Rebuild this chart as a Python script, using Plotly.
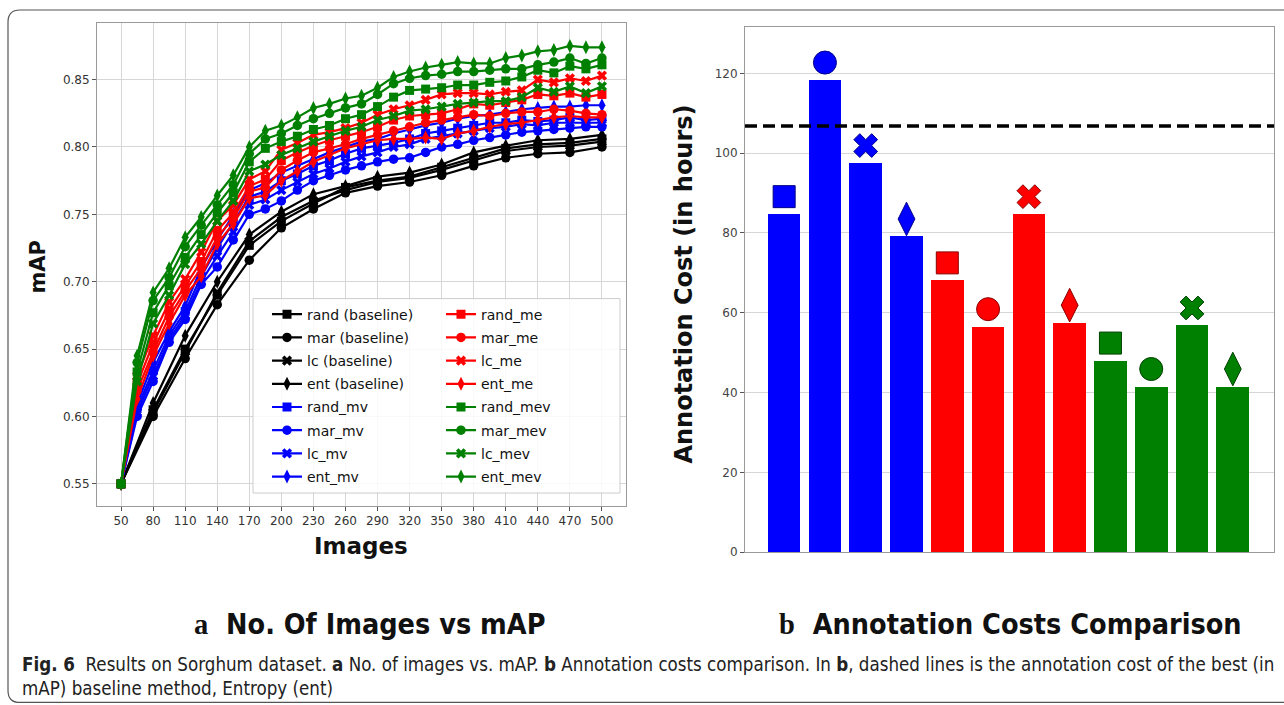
import plotly.graph_objects as go

W, H = 1284, 705

# ---------------- data: panel a ----------------
x_base = [50, 80, 110, 140, 170, 200, 230, 260, 290, 320, 350, 380, 410, 440, 470, 500]
x_al = [50, 65, 80, 95, 110, 125, 140, 155, 170, 185, 200, 215, 230, 245, 260, 275,
        290, 305, 320, 335, 350, 365, 380, 395, 410, 425, 440, 455, 470, 485, 500]

rand_base = [0.550, 0.605, 0.650, 0.690, 0.727, 0.745, 0.758, 0.770, 0.775, 0.778, 0.785, 0.792, 0.799, 0.802, 0.803, 0.806]
mar_base = [0.550, 0.600, 0.643, 0.683, 0.716, 0.740, 0.754, 0.766, 0.771, 0.774, 0.779, 0.786, 0.792, 0.795, 0.796, 0.800]
lc_base = [0.550, 0.603, 0.648, 0.692, 0.730, 0.748, 0.760, 0.768, 0.774, 0.777, 0.783, 0.790, 0.797, 0.800, 0.801, 0.804]
ent_base = [0.550, 0.610, 0.660, 0.700, 0.735, 0.752, 0.765, 0.771, 0.778, 0.781, 0.787, 0.796, 0.801, 0.805, 0.806, 0.809]

rand_mv = [0.550, 0.606, 0.634, 0.660, 0.678, 0.704, 0.725, 0.744, 0.763, 0.767, 0.775, 0.780, 0.786, 0.790, 0.795, 0.799,
           0.801, 0.803, 0.806, 0.810, 0.812, 0.814, 0.816, 0.818, 0.818, 0.820, 0.819, 0.820, 0.822, 0.820, 0.821]
mar_mv = [0.550, 0.600, 0.626, 0.655, 0.672, 0.698, 0.711, 0.731, 0.750, 0.754, 0.760, 0.768, 0.775, 0.779, 0.783, 0.786,
          0.789, 0.791, 0.792, 0.796, 0.800, 0.802, 0.805, 0.807, 0.809, 0.811, 0.812, 0.813, 0.814, 0.815, 0.815]
lc_mv = [0.550, 0.603, 0.630, 0.657, 0.675, 0.700, 0.719, 0.737, 0.757, 0.761, 0.768, 0.774, 0.780, 0.784, 0.789, 0.793,
         0.796, 0.800, 0.802, 0.806, 0.808, 0.810, 0.812, 0.814, 0.815, 0.817, 0.816, 0.818, 0.818, 0.818, 0.818]
ent_mv = [0.550, 0.609, 0.640, 0.663, 0.682, 0.710, 0.731, 0.750, 0.768, 0.773, 0.781, 0.786, 0.791, 0.796, 0.800, 0.804,
          0.806, 0.810, 0.813, 0.816, 0.818, 0.821, 0.823, 0.824, 0.826, 0.828, 0.829, 0.830, 0.830, 0.831, 0.831]

rand_me = [0.550, 0.624, 0.654, 0.679, 0.697, 0.715, 0.738, 0.751, 0.771, 0.776, 0.790, 0.796, 0.801, 0.805, 0.808, 0.811,
           0.815, 0.820, 0.823, 0.824, 0.825, 0.828, 0.832, 0.831, 0.833, 0.835, 0.839, 0.838, 0.840, 0.837, 0.839]
mar_me = [0.550, 0.619, 0.648, 0.674, 0.693, 0.710, 0.733, 0.747, 0.767, 0.770, 0.783, 0.790, 0.796, 0.799, 0.802, 0.806,
          0.809, 0.812, 0.815, 0.818, 0.820, 0.822, 0.824, 0.823, 0.825, 0.826, 0.826, 0.828, 0.827, 0.825, 0.824]
lc_me = [0.550, 0.630, 0.660, 0.685, 0.702, 0.722, 0.745, 0.757, 0.776, 0.782, 0.798, 0.803, 0.809, 0.811, 0.814, 0.818,
         0.824, 0.828, 0.831, 0.835, 0.839, 0.840, 0.840, 0.839, 0.841, 0.842, 0.850, 0.848, 0.851, 0.849, 0.853]
ent_me = [0.550, 0.613, 0.645, 0.669, 0.690, 0.704, 0.728, 0.743, 0.762, 0.764, 0.775, 0.782, 0.789, 0.794, 0.799, 0.802,
          0.805, 0.806, 0.806, 0.807, 0.806, 0.810, 0.812, 0.815, 0.817, 0.818, 0.820, 0.822, 0.823, 0.822, 0.822]

rand_mev = [0.550, 0.633, 0.677, 0.697, 0.718, 0.735, 0.751, 0.766, 0.789, 0.799, 0.804, 0.808, 0.813, 0.816, 0.821, 0.824,
            0.830, 0.837, 0.842, 0.843, 0.844, 0.846, 0.846, 0.848, 0.849, 0.852, 0.857, 0.855, 0.860, 0.858, 0.861]
mar_mev = [0.550, 0.640, 0.686, 0.703, 0.726, 0.742, 0.757, 0.772, 0.795, 0.806, 0.810, 0.816, 0.821, 0.825, 0.829, 0.832,
           0.839, 0.847, 0.851, 0.853, 0.854, 0.856, 0.856, 0.857, 0.858, 0.858, 0.861, 0.863, 0.866, 0.862, 0.866]
lc_mev = [0.550, 0.626, 0.669, 0.690, 0.713, 0.728, 0.745, 0.760, 0.782, 0.787, 0.794, 0.799, 0.804, 0.808, 0.812, 0.815,
          0.820, 0.823, 0.827, 0.828, 0.830, 0.832, 0.833, 0.834, 0.834, 0.837, 0.844, 0.841, 0.845, 0.840, 0.845]
ent_mev = [0.550, 0.645, 0.692, 0.710, 0.733, 0.748, 0.764, 0.779, 0.800, 0.812, 0.816, 0.822, 0.829, 0.832, 0.836, 0.838,
           0.844, 0.852, 0.856, 0.859, 0.861, 0.863, 0.862, 0.862, 0.866, 0.868, 0.871, 0.872, 0.875, 0.874, 0.874]

x_ticks_a = [50, 80, 110, 140, 170, 200, 230, 260, 290, 320, 350, 380, 410, 440, 470, 500]
y_ticks_a = [0.55, 0.60, 0.65, 0.70, 0.75, 0.80, 0.85]

# ---------------- data: panel b ----------------
cost_methods = ["rand_mv", "mar_mv", "lc_mv", "ent_mv", "rand_me", "mar_me", "lc_me", "ent_me",
                "rand_mev", "mar_mev", "lc_mev", "ent_mev"]
cost_hours = [84.7, 118.3, 97.5, 79.1, 68.1, 56.5, 84.7, 57.5, 48.0, 41.5, 56.8, 41.5]
baseline_cost = 106.8
y_ticks_b = [0, 20, 40, 60, 80, 100, 120]

BLACK, BLUE, RED, GREEN = "#000000", "#0000ff", "#ff0000", "#008000"
SYM = {"rand": "square", "mar": "circle", "lc": "x", "ent": "diamond-tall"}

fig = go.Figure()

series = [
    ("rand (baseline)", x_base, rand_base, BLACK, "rand", "legend"),
    ("mar (baseline)", x_base, mar_base, BLACK, "mar", "legend"),
    ("lc (baseline)", x_base, lc_base, BLACK, "lc", "legend"),
    ("ent (baseline)", x_base, ent_base, BLACK, "ent", "legend"),
    ("rand_mv", x_al, rand_mv, BLUE, "rand", "legend"),
    ("mar_mv", x_al, mar_mv, BLUE, "mar", "legend"),
    ("lc_mv", x_al, lc_mv, BLUE, "lc", "legend"),
    ("ent_mv", x_al, ent_mv, BLUE, "ent", "legend"),
    ("rand_me", x_al, rand_me, RED, "rand", "legend2"),
    ("mar_me", x_al, mar_me, RED, "mar", "legend2"),
    ("lc_me", x_al, lc_me, RED, "lc", "legend2"),
    ("ent_me", x_al, ent_me, RED, "ent", "legend2"),
    ("rand_mev", x_al, rand_mev, GREEN, "rand", "legend2"),
    ("mar_mev", x_al, mar_mev, GREEN, "mar", "legend2"),
    ("lc_mev", x_al, lc_mev, GREEN, "lc", "legend2"),
    ("ent_mev", x_al, ent_mev, GREEN, "ent", "legend2"),
]

for name, xs, ys, col, kind, leg in series:
    size = {"square": 9, "circle": 9.5, "x": 9, "diamond-tall": 10}[SYM[kind]]
    fig.add_trace(go.Scatter(
        x=xs, y=ys, name=name, mode="lines+markers",
        line=dict(color=col, width=2.2),
        marker=dict(symbol=SYM[kind], size=size, color=col, line=dict(width=0), opacity=1),
        xaxis="x", yaxis="y", legend=leg, legendgroup=name,
    ))

bar_colors = [BLUE] * 4 + [RED] * 4 + [GREEN] * 4
edge_colors = ["#00008b"] * 4 + ["#8b0000"] * 4 + ["#004000"] * 4
bar_pos = list(range(len(cost_hours)))
fig.add_trace(go.Bar(
    x=bar_pos, y=cost_hours, width=0.8, marker=dict(color=bar_colors, line=dict(width=0)),
    xaxis="x2", yaxis="y2", showlegend=False, hoverinfo="y",
))
kinds = ["rand", "mar", "lc", "ent"] * 3
marker_sizes = {"square": 22, "circle": 23, "x": 21, "diamond-tall": 24}
fig.add_trace(go.Scatter(
    x=bar_pos, y=[v + 4.4 for v in cost_hours], mode="markers",
    marker=dict(symbol=[SYM[k] for k in kinds], size=[marker_sizes[SYM[k]] for k in kinds],
                color=bar_colors, opacity=1, line=dict(color=edge_colors, width=1)),
    xaxis="x2", yaxis="y2", showlegend=False,
))

# panel geometry (pixels -> paper); K compensates the slight vertical squeeze of the rendered page
K = 0.988

def px(x):
    return x / W

def py(y):
    return 1 - y / (K * H)

grid = "#d6d6d6"
tickfont = dict(family="DejaVu Sans, sans-serif", size=12, color="#333333")

fig.update_layout(
    width=W, height=H, margin=dict(l=0, r=0, t=0, b=0),
    paper_bgcolor="white", plot_bgcolor="white",
    xaxis=dict(domain=[px(97), px(626)], range=[27.5, 522.5], tickvals=x_ticks_a,
               showgrid=True, gridcolor=grid, gridwidth=1, zeroline=False,
               showline=True, linecolor="#9a9a9a", mirror=True, ticks="outside", ticklen=4,
               tickcolor="#555", tickfont=tickfont, anchor="y"),
    yaxis=dict(domain=[py(505), py(23)], range=[0.5335, 0.892], tickvals=y_ticks_a,
               tickformat=".2f", showgrid=True, gridcolor=grid, gridwidth=1, zeroline=False,
               showline=True, linecolor="#9a9a9a", mirror=True, ticks="outside", ticklen=4,
               tickcolor="#555", tickfont=tickfont, anchor="x"),
    xaxis2=dict(domain=[px(745), px(1274)], range=[-0.96, 12.01], showticklabels=False,
                showgrid=False, zeroline=False, showline=True, linecolor="#9a9a9a", mirror=True,
                ticks="", anchor="y2"),
    yaxis2=dict(domain=[py(551), py(27)], range=[0, 131.6], tickvals=y_ticks_b,
                showgrid=True, gridcolor=grid, gridwidth=1, zeroline=False,
                showline=True, linecolor="#9a9a9a", mirror=True, ticks="outside", ticklen=4,
                tickcolor="#555", tickfont=dict(family="DejaVu Sans, sans-serif",
                                                size=12, color="#444444"), anchor="x2"),
    legend=dict(x=px(267), y=py(298), xanchor="left", yanchor="top", bgcolor="rgba(0,0,0,0)",
                borderwidth=0, tracegroupgap=2, traceorder="grouped",
                font=dict(family="DejaVu Sans, sans-serif", size=14, color="#111")),
    legend2=dict(x=px(441), y=py(298), xanchor="left", yanchor="top", bgcolor="rgba(0,0,0,0)",
                 borderwidth=0, tracegroupgap=2, traceorder="grouped",
                 font=dict(family="DejaVu Sans, sans-serif", size=14, color="#111")),
    bargap=0,
)

# legend frame
fig.add_shape(type="rect", xref="paper", yref="paper", x0=px(253), x1=px(620), y0=py(492), y1=py(298),
              line=dict(color="#cccccc", width=1), fillcolor="rgba(255,255,255,0.85)", layer="above")

# dashed baseline (entropy) cost line
fig.add_shape(type="line", xref="x2 domain", yref="y2", x0=0, x1=1, y0=baseline_cost, y1=baseline_cost,
              line=dict(color="black", width=3.5, dash="12px,6px"), layer="above")

# rounded outer border
r = 12
x0b, y0b, x1b, y1b = 8, 10, 1300, 701
path = (f"M {px(x0b + r)},{py(y0b)} L {px(x1b - r)},{py(y0b)} "
        f"Q {px(x1b)},{py(y0b)} {px(x1b)},{py(y0b + r)} L {px(x1b)},{py(y1b - r)} "
        f"Q {px(x1b)},{py(y1b)} {px(x1b - r)},{py(y1b)} L {px(x0b + r)},{py(y1b)} "
        f"Q {px(x0b)},{py(y1b)} {px(x0b)},{py(y1b - r)} L {px(x0b)},{py(y0b + r)} "
        f"Q {px(x0b)},{py(y0b)} {px(x0b + r)},{py(y0b)} Z")
fig.add_shape(type="path", xref="paper", yref="paper", path=path, line=dict(color="#555555", width=1.2))

COND = "DejaVu Sans Condensed, DejaVu Sans, sans-serif"
sub_font = dict(family=COND, size=28.5, color="#111", weight="bold")
cap_font = dict(family=COND, size=18.6, color="#222")
annotations = [
    dict(text="<b>mAP</b>", x=px(38), y=py(266), textangle=-90,
         font=dict(family="DejaVu Sans, sans-serif", size=21, color="#111")),
    dict(text="<b>Images</b>", x=px(361), y=py(545),
         font=dict(family="DejaVu Sans, sans-serif", size=23, color="#111")),
    dict(text="<b>Annotation Cost (in hours)</b>", x=px(684), y=py(283), textangle=-90,
         font=dict(family="DejaVu Sans, sans-serif", size=24, color="#111")),
    dict(text='<span style="font-family:Liberation Serif, serif">a</span>  No. Of Images vs mAP',
         x=px(369), y=py(623), font=sub_font),
    dict(text='<span style="font-family:Liberation Serif, serif">b</span>  Annotation Costs Comparison',
         x=px(1010), y=py(623), font=sub_font),
    dict(text="<b>Fig. 6</b>  Results on Sorghum dataset. <b>a</b> No. of images vs. mAP. <b>b</b> "
              "Annotation costs comparison. In <b>b</b>, dashed lines is the annotation cost of the best (in",
         x=px(20), y=py(663), xanchor="left", font=cap_font),
    dict(text="mAP) baseline method, Entropy (ent)",
         x=px(20), y=py(687), xanchor="left", font=cap_font),
]
for a in annotations:
    a.setdefault("xanchor", "center")
    fig.add_annotation(xref="paper", yref="paper", showarrow=False, yanchor="middle", **a)

fig.write_html("out.html", config={"displayModeBar": False},
               post_script="document.body.style.margin='0px';document.body.style.overflow='hidden';")
